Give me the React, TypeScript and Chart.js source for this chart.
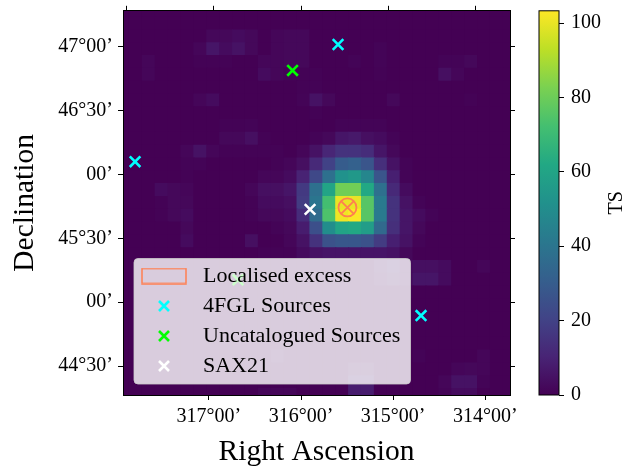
import React, { useEffect, useRef } from "react";
import { Chart, registerables } from "chart.js";

Chart.register(...registerables);

const SERIF = "'Liberation Serif', serif";

// TS map, rows from the top (high declination) to the bottom, columns from the left (high RA)
const TS_ROWS: number[][] = [
  [0,0,0,0,0,0,0,0,0,0,0,0,0,0,0,0,0,0,0,0,0,0,0,0,0,0,0,0,0,0,0],
  [0,0,0,0,0,0,0,0,0,0,0,0,0,0,0,0,0,0,0,0,0,0,0,0,0,0,0,0,0,0,0],
  [0,0,0,0,0,0,0,2,2,3,2,0,1.5,2,2,0,0,0,0,0,0,0,0,0,0,0,0,0,0,0,0],
  [0,0,0,0,0,0,1.5,6,3,5,2,0,1.5,2,2,0,0,0,0,0,1,0,0,0,0,0,0,0,0,0,0],
  [0,0,1.5,0,0,0,0.5,0.5,0.5,0,0,1.5,1.5,2,2,0,0,0,1,0,1,0,0,0,0,1,1,2,0,0,0],
  [0,0,1.5,0,0,0,0,0,0,0,0,3,1.5,0.5,0.5,0.5,0,0,0,0,0.5,0,0,0,0,4,1.5,0,0,0,0],
  [0,0,0,0,0,0,0,0,0,0,0,0,0,0,0.5,0.5,0,0,0,0,0,0,0,0,0,0,0,0,0,0,0],
  [0,0,0,0,0,0,1.5,3,0,0,0,0,0,0,1,5,2,0,0,0,0,2,0,0,0,0,0,0.5,0,0,0],
  [0,0,0,0,0,0,0,0,0,0,0,0,0,0,0,0.5,0,0,0,0,0,0,0,0,0,0,0,0,0,0,0],
  [0,0,0,0,0,0,0,0,0.5,0.5,1,0,0,0,0,0,0,1,1,1,1,0,0,0,0,0,0,0,0,0,0],
  [0,0,0,0,0,0,0,0,2,2,4,0.5,0,0,0,1,2,6,7,4,3,1,0,0,0,0,0,0,0,0,0],
  [0,0,0,0,0,1.5,5,1.5,0.5,0.5,0.5,0.5,0.5,0,1.5,5,11,15,15,13,6,2,0,0,0,0,0,0,0,0,0],
  [0,0,0,0,0,1,1,0,0,0,0,0,0.5,1.5,4,12,20,30,32,27,14,5,1,0,0,0,0,0,0,0,0],
  [0,0,0,0,0,0.5,0,0,0,0,0,1.5,1.5,3,10,22,38,52,55,47,27,9,1,0,0,0,0,0,0,0,0],
  [0,0,0,3,2,1.5,0,0,0,0,1.5,4,4,6,17,38,60,81,81,62,38,12,3,0,0,0,0,0,0,0,0],
  [0,0,0,0.5,2,2,0,0,0,0,0.5,3,3,4,18,40,72,100,100,76,42,15,5,1,0,0,0,0,0,0,0],
  [0,0,0,0.5,2,3,0,0,0,0,0.5,2,2,3,13,36,74,101,103,76,42,15,6,3,1,0,0,0,0,0,0],
  [0,0,0,0,0,2,0,0,0,0,0,0,1,2,8,25,50,60,62,57,35,14,6,2,0,0,0,0,0,0,0],
  [0,0,0,0,0,3,0,0,0,0,4,0,0,1.5,5,15,26,28,28,26,18,9,5,1,0,0,0,0,0,0,0],
  [0,0,0,0,0,0,0,0,0,0,0,0.5,0.5,0.5,3,5,6,6,6,6,6,5,2,0,0,0,0,0,0,0,0],
  [0,0,0,0,0,0,0,0,0,0,0,0,0,0,0,0,0,0,0,0,5,8,3,4,4,3,0,0,1.5,0,0],
  [0,0,0,0,0,0,0,0,0,0,0,0,0,0,0,0,0,0,0,0,3,6,3,6,6,3,0,0,0,0,0],
  [0,0,0,0,0,0,0,0,0,0,0,0,0,0,0,0,0,0,0,0,0,0,0.5,0,0,0,0,0,0,0,0],
  [0,0,0,0,0,0,0,0,0,0,0,0,0,0,0,0,0,0,0,0,0,0,0,0,0,0,0,0,0,0,0],
  [0,0,0,0,0,0,0,0,0,0,0,0,0,0,0,0,0,0,0,0,0,0,0,0,0,0,0,0,0,0,0],
  [0,0,0,0,0,0,0,0,0,0,0,0,0,0,0,0,0,0,0,0,0,0,0,0,0,0,0,0,0,0,0],
  [0,0,0,0,0,0,0,0,0,0,0,0,0,0,0,0,0,0,0,0,0,0,0,0,0,0,0,0,0,0,0],
  [0,0,0,0,0,0,0,0,0,0,0,0,3,0,0,0,0,0,0,0,0,0,0,1,0,0,0,0,1.5,0,0],
  [0,0,0,0,0,0,0,0,0,0,0,0,0,0,0,0,0,0,4,4,0,0,0,0,0,0,1.5,2,1.5,0,0],
  [0,0,0,0,0,0,0,0,0,0,0,0,0,0,0,0,0,0,8,8,0,0,0,0,0,1.5,5,5,1,0,0],
  [0,0,0,0,0,0,0,0,0,0,0,1.5,1.5,1.5,0,0,0,0,8,8,0,0,0,0,0,1,3,3,0,0,0],
];

const RA_FIRST_CELL = 317.933;
const RA_CELL = 0.14;
const DEC_FIRST_CELL = 47.282;
const DEC_CELL = 0.1003;

const FGL_SOURCES = [
  { x: 315.598, y: 47.018 },
  { x: 317.802, y: 46.1 },
  { x: 314.697, y: 44.895 },
];
const UNCATALOGUED_SOURCES = [
  { x: 316.092, y: 46.815 },
  { x: 316.684, y: 45.175 },
];
const SAX21 = [{ x: 315.902, y: 45.727 }];
const LOCALISED_EXCESS = [{ x: 315.496, y: 45.742 }];

const DEC_TICKS = [47, 46.5, 46, 45.5, 45, 44.5];
const DEC_TICK_LABELS = ["47°00’", "46°30’", "00’", "45°30’", "00’", "44°30’"];
const LEGEND_LABELS = ["Localised excess", "4FGL Sources", "Uncatalogued Sources", "SAX21"];

const TS_MAX = 103.3;
const VIRIDIS = ["#440154","#482475","#414487","#355f8d","#2a788e","#21918c","#22a884","#44bf70","#7ad151","#bddf26","#fde725"];

const CORAL = "#ff7f50";
const CYAN = "#00ffff";
const LIME = "#00ff00";
const WHITE = "#ffffff";

function rgb(hex: string) {
  return [1, 3, 5].map((k) => parseInt(hex.slice(k, k + 2), 16));
}
function viridis(ts: number) {
  const t = Math.max(0, Math.min(1, ts / TS_MAX)) * (VIRIDIS.length - 1);
  const a = Math.min(Math.floor(t), VIRIDIS.length - 2);
  const f = t - a;
  const p = rgb(VIRIDIS[a]);
  const q = rgb(VIRIDIS[a + 1]);
  return `rgb(${p.map((v, k) => Math.round(v + (q[k] - v) * f)).join(",")})`;
}

function rectSymbol(color: string) {
  const c = document.createElement("canvas");
  c.width = 46;
  c.height = 17;
  const g = c.getContext("2d")!;
  g.strokeStyle = color;
  g.lineWidth = 1.5;
  g.strokeRect(1, 1, 44, 15);
  return c;
}
function crossSymbol(color: string) {
  const c = document.createElement("canvas");
  c.width = 14;
  c.height = 14;
  const g = c.getContext("2d")!;
  g.strokeStyle = color;
  g.lineWidth = 2.6;
  g.beginPath();
  g.moveTo(2, 2);
  g.lineTo(12, 12);
  g.moveTo(12, 2);
  g.lineTo(2, 12);
  g.stroke();
  return c;
}

const layoutPlugin = {
  id: "layoutPlugin",
  beforeLayout(chart: any) {
    const legend = chart.legend;
    if (!legend) return;
    legend._layers = () => [
      {
        z: 10,
        draw(area: any) {
          const ctx = chart.ctx;
          ctx.save();
          ctx.beginPath();
          ctx.roundRect(134, 258.5, 276.5, 125.5, 4);
          ctx.fillStyle = "rgba(255,255,255,0.8)";
          ctx.fill();
          ctx.strokeStyle = "rgba(204,204,204,0.8)";
          ctx.lineWidth = 1;
          ctx.stroke();
          ctx.restore();
          legend.draw(area);
        },
      },
    ];
  },
  afterLayout(chart: any) {
    const { yRight, yTS } = chart.scales;
    const right = chart.chartArea.right;
    yRight.left = right;
    yRight.right = right;
    yTS.left = 559;
    yTS.right = 638;
    const legend = chart.legend;
    legend.left = 128;
    legend.right = 410;
    legend.top = 257;
    legend.bottom = 395;
  },
  afterDatasetsDraw(chart: any) {
    const { ctx } = chart;
    const s = chart.scales.yTS;
    const top = s.getPixelForValue(TS_MAX);
    const bottom = s.getPixelForValue(0);
    const g = ctx.createLinearGradient(0, bottom, 0, top);
    VIRIDIS.forEach((c, i) => g.addColorStop(i / (VIRIDIS.length - 1), c));
    ctx.save();
    ctx.fillStyle = g;
    ctx.fillRect(539, top, 20, bottom - top);
    ctx.strokeStyle = "#000";
    ctx.lineWidth = 1;
    ctx.strokeRect(539, top, 20, bottom - top);
    ctx.translate(617, (top + bottom) / 2);
    ctx.rotate(-Math.PI / 2);
    ctx.fillStyle = "#000";
    ctx.font = `20px ${SERIF}`;
    ctx.textAlign = "center";
    ctx.textBaseline = "middle";
    ctx.fillText("TS", 0, 0);
    ctx.restore();
  },
};

function noMargins(s: any) {
  s.paddingTop = 0;
  s.paddingBottom = 0;
  s.paddingLeft = 0;
  s.paddingRight = 0;
}

export default function App() {
  const ref = useRef<HTMLCanvasElement>(null);
  useEffect(() => {
    const cells = TS_ROWS.flatMap((row, j) =>
      row.map((ts, i) => ({ x: RA_FIRST_CELL - i * RA_CELL, y: DEC_FIRST_CELL - j * DEC_CELL, ts }))
    );
    const tick = (size: number) => ({ size, family: SERIF });
    const frame = { display: true, color: "#000", width: 1, z: 1 };
    const marks = { drawOnChartArea: false, drawTicks: true, tickLength: 5, tickColor: "#000", tickWidth: 1 };
    const marker = (label: string, data: any[], color: string, order = 1) => ({
      label,
      data,
      pointStyle: "crossRot",
      pointRadius: 7.5,
      pointBorderColor: color,
      pointBorderWidth: 2.6,
      pointBackgroundColor: "transparent",
      showLine: false,
      order,
      clip: 0,
    });
    const chart = new Chart(ref.current!, {
      type: "scatter",
      data: {
        datasets: [
          marker(LEGEND_LABELS[3], SAX21, WHITE),
          marker(LEGEND_LABELS[2], UNCATALOGUED_SOURCES, LIME),
          marker(LEGEND_LABELS[1], FGL_SOURCES, CYAN),
          {
            label: LEGEND_LABELS[0],
            data: LOCALISED_EXCESS,
            pointStyle: "circle",
            pointRadius: 9,
            pointBorderColor: CORAL,
            pointBorderWidth: 1.8,
            pointBackgroundColor: "transparent",
            showLine: false,
            order: 1,
            clip: 0,
          },
          { ...marker("Localised excess centre", LOCALISED_EXCESS, CORAL), pointBorderWidth: 1.8, pointRadius: 9 },
          {
            label: "TS",
            data: cells,
            pointStyle: "rect",
            pointRadius: 14 / Math.SQRT2,
            pointBorderWidth: 0,
            pointBackgroundColor: cells.map((c) => viridis(c.ts)),
            pointBorderColor: "transparent",
            showLine: false,
            order: 10,
            clip: 0,
          },
        ] as any,
      },
      plugins: [layoutPlugin],
      options: {
        responsive: false,
        animation: false,
        events: [],
        layout: { padding: 0 },
        plugins: {
          tooltip: { enabled: false },
          legend: {
            display: true,
            position: "chartArea",
            align: "start",
            labels: {
              usePointStyle: true,
              pointStyleWidth: 56,
              boxHeight: 10,
              padding: 8,
              color: "#000",
              font: tick(22),
              generateLabels: () =>
                [rectSymbol(CORAL), crossSymbol(CYAN), crossSymbol(LIME), crossSymbol(WHITE)].map((sym, i) => ({
                  text: LEGEND_LABELS[i],
                  pointStyle: sym,
                  fillStyle: "transparent",
                  strokeStyle: "transparent",
                  lineWidth: 1,
                  hidden: false,
                  fontColor: "#000",
                })),
            },
          },
        } as any,
        scales: {
          x: {
            type: "linear",
            position: "bottom",
            reverse: true,
            min: 313.731,
            max: 317.933,
            border: frame,
            grid: marks,
            ticks: {
              stepSize: 1,
              includeBounds: false,
              autoSkip: false,
              maxRotation: 0,
              padding: 5,
              color: "#000",
              font: tick(20),
              callback: (v: any) => `${v}°00’`,
            },
            title: { display: true, text: "Right Ascension", color: "#000", font: tick(29.5), padding: { top: 0, bottom: 0 } },
            afterFit: (s: any) => { s.height = 75; noMargins(s); },
          },
          xTop: {
            type: "linear",
            axis: "x",
            position: "top",
            reverse: true,
            min: 313.606,
            max: 318.039,
            border: frame,
            grid: marks,
            ticks: { stepSize: 1, includeBounds: false, autoSkip: false, display: false },
            afterFit: (s: any) => { s.height = 8; noMargins(s); },
          },
          y: {
            type: "linear",
            position: "left",
            min: 44.273,
            max: 47.282,
            border: frame,
            grid: marks,
            ticks: {
              stepSize: 0.5,
              includeBounds: false,
              autoSkip: false,
              padding: 5,
              color: "#000",
              font: tick(20),
              callback: (v: any) => DEC_TICK_LABELS[DEC_TICKS.indexOf(v)] ?? "",
            },
            title: { display: true, text: "Declination", color: "#000", font: tick(29.5), padding: { top: 8, bottom: 0 } },
            afterFit: (s: any) => { s.width = 123; noMargins(s); },
          },
          yRight: {
            type: "linear",
            axis: "y",
            position: "right",
            min: 44.273,
            max: 47.282,
            border: frame,
            grid: marks,
            ticks: { stepSize: 0.5, includeBounds: false, autoSkip: false, display: false },
            afterFit: (s: any) => { s.width = 0; noMargins(s); },
          },
          yTS: {
            type: "linear",
            axis: "y",
            position: "right",
            min: 0,
            max: TS_MAX,
            border: { display: false },
            grid: marks,
            ticks: { stepSize: 20, includeBounds: false, autoSkip: false, padding: 7, color: "#000", font: tick(20) },
            afterFit: (s: any) => { s.width = 128; noMargins(s); },
          },
        } as any,
      },
    });
    return () => chart.destroy();
  }, []);
  return (
    <div style={{ position: "absolute", left: 0, top: 0, width: 638, height: 470 }}>
      <canvas ref={ref} width={638} height={470} style={{ display: "block" }} />
    </div>
  );
}
